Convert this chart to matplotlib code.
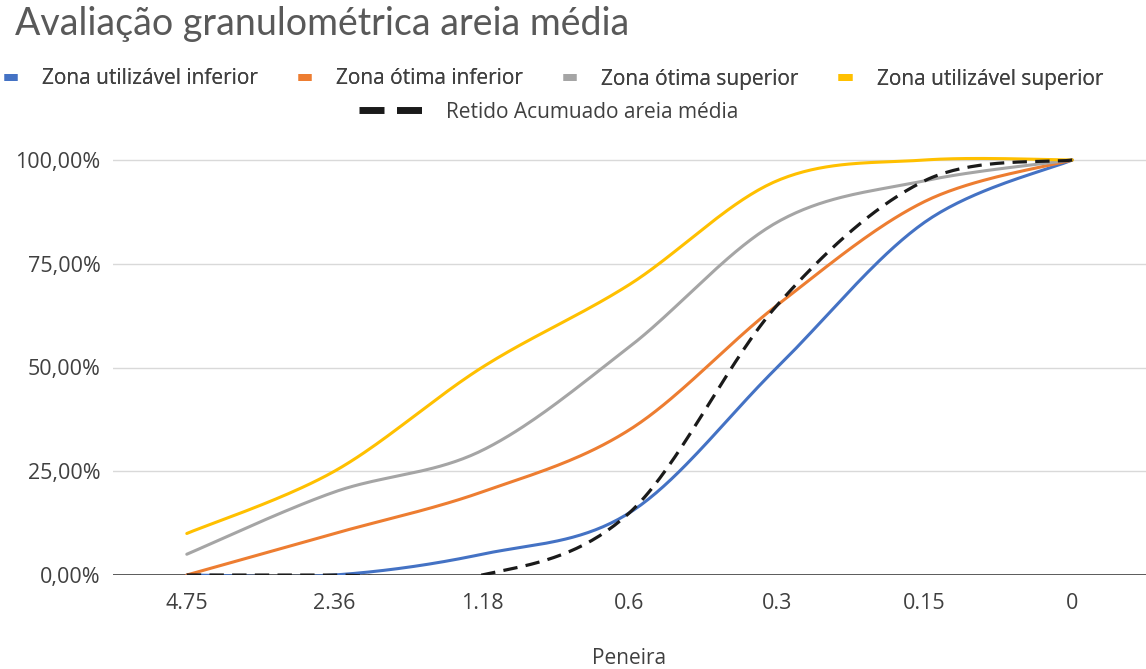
import numpy as np
import matplotlib
matplotlib.use("Agg")
import matplotlib.pyplot as plt
from matplotlib.lines import Line2D
from matplotlib.ticker import FuncFormatter

peneiras = ["4.75", "2.36", "1.18", "0.6", "0.3", "0.15", "0"]
util_inf = [0.00, 0.00, 0.05, 0.15, 0.50, 0.85, 1.00]
otima_inf = [0.00, 0.10, 0.20, 0.35, 0.65, 0.90, 1.00]
otima_sup = [0.05, 0.20, 0.30, 0.55, 0.85, 0.95, 1.00]
util_sup = [0.10, 0.25, 0.50, 0.70, 0.95, 1.00, 1.00]
retido = [0.00, 0.00, 0.00, 0.15, 0.65, 0.95, 1.00]

names = ["Zona utilizável inferior", "Zona ótima inferior",
         "Zona ótima superior", "Zona utilizável superior"]
colors = ["#4472C4", "#ED7D31", "#A5A5A5", "#FFC000"]

plt.rcParams["font.family"] = ["Open Sans", "DejaVu Sans"]


def smooth(ys, n=40):
    # excel-like bezier smoothing, control points at 1/6 of neighbour span
    xs = np.arange(len(ys), dtype=float)
    ys = np.asarray(ys, dtype=float)
    px = np.concatenate([[xs[0]], xs, [xs[-1]]])
    py = np.concatenate([[ys[0]], ys, [ys[-1]]])
    outx, outy = [], []
    t = np.linspace(0, 1, n)
    for i in range(len(ys) - 1):
        j = i + 1
        p0 = np.array([px[j], py[j]])
        p3 = np.array([px[j + 1], py[j + 1]])
        c1 = p0 + (np.array([px[j + 1], py[j + 1]]) - np.array([px[j - 1], py[j - 1]])) / 6
        c2 = p3 - (np.array([px[j + 2], py[j + 2]]) - np.array([px[j], py[j]])) / 6
        b = ((1 - t) ** 3)[:, None] * p0 + (3 * (1 - t) ** 2 * t)[:, None] * c1 \
            + (3 * (1 - t) * t ** 2)[:, None] * c2 + (t ** 3)[:, None] * p3
        outx.extend(b[:, 0])
        outy.extend(b[:, 1])
    return np.array(outx), np.array(outy)


fig = plt.figure(figsize=(11.46, 6.69), dpi=100)
ax = fig.add_axes([113 / 1146, 94 / 669, 1 - 113 / 1146, 419.15 / 669])

for ys, c in zip([util_inf, otima_inf, otima_sup, util_sup], colors):
    sx, sy = smooth(ys)
    ax.plot(sx, sy, color=c, lw=2.2, solid_capstyle="round")
sx, sy = smooth(retido)
ax.plot(sx, sy, color="#1a1a1a", lw=2.3, linestyle=(0, (4.5, 2.6)))

ax.set_xlim(-0.5, len(peneiras) - 0.5)
ax.set_ylim(0, 1.01)
ax.set_yticks([0, 0.25, 0.5, 0.75, 1.0])
ax.yaxis.set_major_formatter(FuncFormatter(lambda v, p: f"{v * 100:.2f}%".replace(".", ",")))
ax.set_xticks(range(len(peneiras)))
ax.set_xticklabels(peneiras)
ax.grid(axis="y", color="#d9d9d9", lw=1)
ax.set_axisbelow(True)
ax.axhline(0, color="#404040", lw=1.2, zorder=1.5)
for s in ax.spines.values():
    s.set_visible(False)
ax.tick_params(length=0, labelsize=15.5, colors="#404040")
ax.tick_params(axis="x", pad=13)
ax.tick_params(axis="y", pad=9)

fig.text(15 / 1146, 1 - 24 / 669, "Avaliação granulométrica areia média",
         fontsize=27, color="#595959", family=["Lato", "DejaVu Sans"], ha="left", va="center")

h1 = [Line2D([], [], color=c, lw=5, solid_capstyle="butt") for c in colors]
leg1 = fig.legend(h1, names, loc="center", bbox_to_anchor=(0.483, 1 - 79 / 669), ncol=4,
                  frameon=False, handlelength=0.65, handletextpad=1.2, columnspacing=1.9,
                  prop={"size": 15}, labelcolor="#404040")
h2 = [Line2D([], [], color="#1a1a1a", lw=5, linestyle=(0, (3.6, 1.8)))]
fig.legend(h2, ["Retido Acumuado areia média"], loc="center", bbox_to_anchor=(0.479, 1 - 112 / 669),
           frameon=False, handlelength=3.3, handletextpad=0.9,
           prop={"size": 15}, labelcolor="#404040")
fig.add_artist(leg1)

fig.text(0.5 + 56 / 1146, 1 - 659 / 669, "Peneira", fontsize=15, color="#404040",
         ha="center", va="center")

fig.savefig("out.png", dpi=100)
